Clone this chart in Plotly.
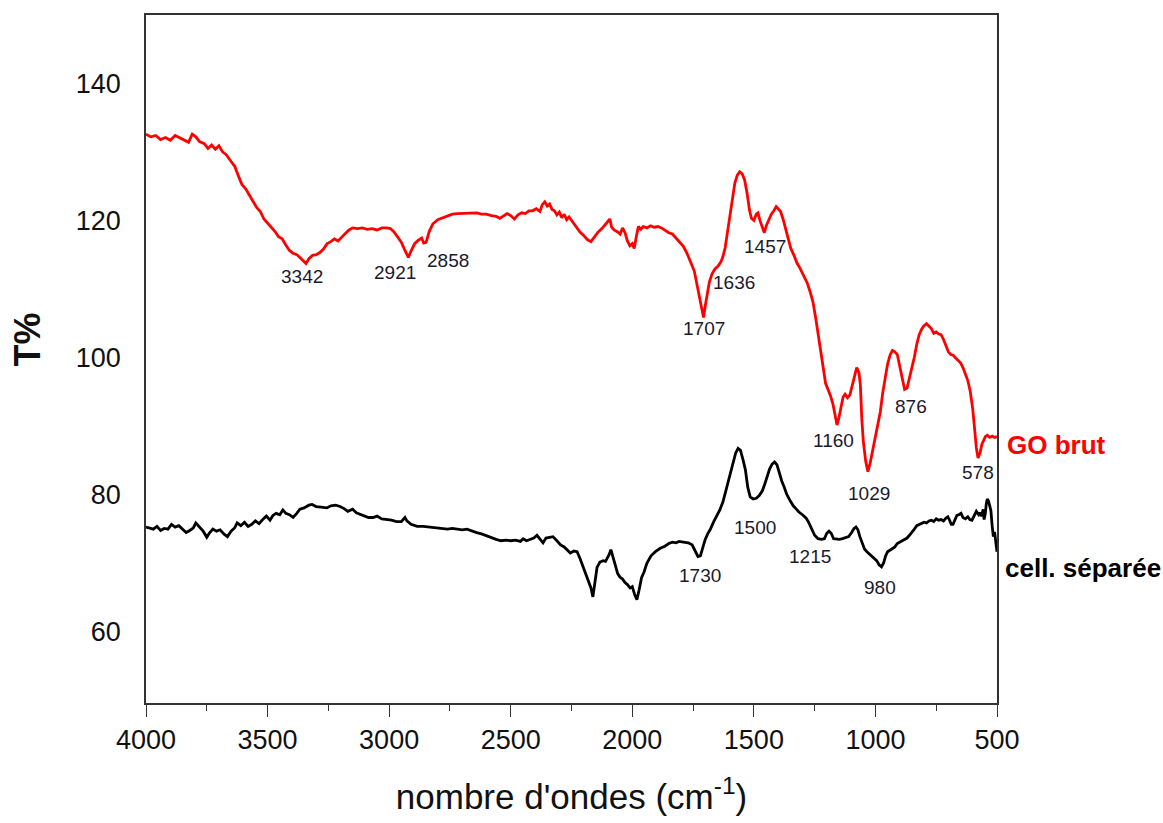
import numpy as np
import plotly.graph_objects as go

# FTIR spectra: wavenumber (cm-1) and transmittance (T%)
go_wn = [4000, 3980, 3960, 3940, 3920, 3900, 3880, 3860, 3840, 3825, 3810, 3795, 3780, 3760, 3745,
         3730, 3715, 3700, 3685, 3670, 3650, 3635, 3620, 3605, 3590, 3575, 3560, 3545, 3530, 3515,
         3500, 3485, 3470, 3455, 3440, 3425, 3410, 3395, 3380, 3365, 3350, 3342, 3330, 3315, 3300,
         3285, 3270, 3255, 3240, 3225, 3210, 3195, 3180, 3165, 3150, 3130, 3110, 3090, 3070, 3050,
         3030, 3010, 2995, 2980, 2965, 2950, 2935, 2921, 2910, 2895, 2880, 2866, 2858, 2848, 2835,
         2820, 2800, 2780, 2760, 2740, 2720, 2700, 2680, 2660, 2640, 2620, 2600, 2580, 2560, 2545,
         2530, 2515, 2500, 2485, 2470, 2455, 2440, 2425, 2410, 2395, 2380, 2370, 2360, 2350, 2340,
         2330, 2320, 2310, 2300, 2290, 2280, 2270, 2260, 2250, 2240, 2230, 2215, 2200, 2185, 2170,
         2155, 2140, 2125, 2110, 2100, 2092, 2085, 2075, 2060, 2050, 2040, 2030, 2020, 2010, 2000,
         1992, 1985, 1975, 1965, 1955, 1940, 1925, 1910, 1895, 1880, 1865, 1850, 1835, 1820, 1805,
         1790, 1775, 1760, 1745, 1735, 1725, 1715, 1707, 1700, 1692, 1683, 1672, 1660, 1648, 1636,
         1628, 1618, 1608, 1598, 1588, 1578, 1568, 1558, 1548, 1538, 1528, 1518, 1510, 1500, 1490,
         1483, 1475, 1465, 1457, 1448, 1438, 1428, 1418, 1408, 1400, 1390, 1380, 1370, 1360, 1348,
         1335, 1323, 1310, 1295, 1281, 1268, 1257, 1245, 1235, 1225, 1215, 1205, 1195, 1185, 1175,
         1165, 1158, 1150, 1140, 1133, 1125, 1115, 1105, 1095, 1085, 1077, 1068, 1062, 1056, 1050,
         1040, 1031, 1022, 1012, 1000, 990, 980, 970, 960, 950, 940, 930, 920, 910, 900,
         890, 880, 870, 860, 850, 840, 830, 820, 810, 800, 790, 780, 770, 760, 750,
         740, 730, 720, 710, 700, 690, 680, 670, 660, 650, 640, 630, 620, 610, 600,
         592, 585, 578, 570, 562, 555, 548, 540, 530, 520, 510, 500]
go_t = [132.6, 132.2, 132.4, 131.8, 132.1, 131.7, 132.4, 132.0, 131.6, 131.4, 132.6, 132.2, 131.5, 131.2, 130.5,
        131.0, 130.4, 130.9, 130.0, 129.6, 128.6, 127.9, 126.5, 125.2, 124.6, 123.6, 122.8, 121.9, 121.3, 120.2,
        119.6, 118.9, 118.4, 117.6, 117.3, 116.4, 115.6, 115.2, 115.0, 114.5, 114.0, 113.7, 114.4, 114.9, 115.0,
        115.3, 115.8, 116.6, 116.9, 117.3, 117.0, 117.6, 118.1, 118.6, 118.9, 118.8, 118.9, 118.7, 118.8, 118.6,
        118.9, 118.9, 118.8, 118.3, 117.6, 116.8, 115.6, 114.6, 115.5, 116.6, 117.1, 117.4, 116.7, 116.8, 118.4,
        119.5, 120.1, 120.4, 120.6, 120.9, 121.0, 121.0, 121.1, 121.0, 121.1, 120.9, 120.9, 120.7, 120.6, 120.3,
        120.7, 121.0, 120.7, 120.2, 120.8, 121.1, 121.0, 121.4, 121.4, 121.7, 121.3, 122.3, 122.7, 122.1, 122.4,
        121.6, 121.4, 120.8, 121.2, 120.4, 120.9, 120.1, 120.5, 120.0, 119.5, 118.9, 118.3, 117.8, 117.2, 116.9,
        117.6, 118.3, 118.8, 119.4, 119.8, 120.2, 119.0, 118.6, 118.3, 118.0, 118.9, 118.2, 117.0, 116.3, 116.6,
        115.9, 117.3, 119.1, 118.7, 119.1, 118.9, 119.2, 119.0, 119.1, 118.9, 118.5, 118.2, 118.0, 117.4, 116.8,
        116.2, 115.2, 114.0, 112.6, 110.8, 108.9, 107.0, 105.8, 107.5, 109.1, 111.0, 112.2, 112.9, 113.3, 113.9,
        114.6, 116.0, 118.4, 121.0, 123.5, 125.5, 126.6, 127.1, 126.8, 125.9, 124.0, 121.5, 120.3, 120.0, 120.9,
        121.1, 120.0, 119.0, 118.2, 119.3, 120.2, 120.9, 121.4, 122.0, 121.7, 121.3, 120.2, 118.8, 117.2, 115.9,
        114.9, 113.8, 113.0, 112.0, 110.9, 109.5, 108.1, 105.6, 103.2, 100.8, 98.2, 96.2, 95.3, 94.4, 93.2,
        91.5, 90.1, 91.2, 93.0, 94.2, 94.6, 94.1, 94.5, 95.8, 97.4, 98.5, 97.8, 96.0, 91.0, 87.8,
        84.8, 83.3, 84.5, 86.4, 88.6, 90.6, 92.0, 94.8, 97.0, 99.0, 100.3, 101.0, 100.8, 100.4, 98.7,
        96.8, 95.3, 95.5, 96.9, 98.2, 100.0, 101.9, 103.3, 104.1, 104.6, 104.9, 104.6, 104.2, 103.5, 103.7,
        103.4, 103.3, 102.6, 101.6, 100.8, 100.4, 100.3, 99.9, 99.6, 99.2, 98.5, 97.6, 96.6, 95.0, 92.5,
        89.5, 86.8, 85.3, 86.0, 87.3, 88.0, 88.4, 88.6, 88.3, 88.5, 88.3, 88.4]

cell_wn = [4000, 3985, 3970, 3955, 3940, 3925, 3910, 3895, 3880, 3865, 3850, 3835, 3820, 3805, 3795,
           3780, 3765, 3750, 3740, 3725, 3710, 3695, 3680, 3665, 3650, 3635, 3625, 3610, 3595, 3580,
           3565, 3550, 3535, 3520, 3505, 3490, 3478, 3465, 3450, 3437, 3425, 3410, 3395, 3380, 3367,
           3350, 3330, 3317, 3300, 3280, 3256, 3240, 3220, 3202, 3185, 3170, 3161, 3150, 3135, 3120,
           3100, 3085, 3066, 3050, 3030, 3009, 2990, 2970, 2950, 2935, 2927, 2910, 2885, 2860, 2830,
           2800, 2780, 2760, 2740, 2720, 2700, 2680, 2660, 2640, 2620, 2598, 2580, 2560, 2540, 2520,
           2500, 2480, 2460, 2449, 2435, 2420, 2405, 2392, 2380, 2367, 2355, 2340, 2326, 2310, 2295,
           2280, 2268, 2255, 2240, 2227, 2215, 2203, 2190, 2180, 2170, 2162, 2155, 2145, 2133, 2120,
           2110, 2104, 2095, 2088, 2080, 2070, 2060, 2051, 2040, 2030, 2020, 2009, 2000, 1990, 1981,
           1972, 1962, 1952, 1940, 1923, 1905, 1885, 1866, 1850, 1835, 1820, 1808, 1790, 1770, 1754,
           1740, 1730, 1720, 1710, 1700, 1690, 1680, 1665, 1650, 1640, 1627, 1615, 1605, 1595, 1585,
           1575, 1565, 1555, 1545, 1535, 1525, 1515, 1503, 1490, 1478, 1465, 1455, 1445, 1435, 1425,
           1415, 1405, 1395, 1385, 1375, 1365, 1350, 1338, 1327, 1315, 1300, 1285, 1275, 1262, 1250,
           1236, 1222, 1210, 1200, 1191, 1182, 1172, 1160, 1148, 1135, 1122, 1110, 1098, 1088, 1080,
           1072, 1064, 1055, 1045, 1035, 1025, 1015, 1005, 995, 985, 975, 966, 958, 950, 940,
           930, 920, 910, 900, 890, 880, 870, 860, 850, 840, 830, 820, 810, 800, 790,
           780, 770, 760, 750, 740, 730, 720, 710, 702, 695, 688, 681, 673, 665, 657,
           648, 640, 630, 620, 612, 603, 595, 585, 575, 570, 563, 557, 553, 548, 544,
           540, 535, 530, 525, 520, 515, 510, 505, 500]
cell_t = [75.2, 75.0, 74.9, 75.3, 74.7, 75.0, 74.9, 75.6, 75.2, 75.4, 74.9, 74.4, 74.7, 75.1, 75.8,
          75.2, 74.6, 73.7, 74.3, 74.9, 74.6, 74.8, 74.2, 73.8, 74.6, 75.1, 75.8, 75.4, 75.9, 75.3,
          75.6, 76.1, 75.7, 76.3, 76.8, 76.2, 76.9, 77.2, 77.0, 77.7, 77.2, 77.0, 76.6, 77.2, 77.8,
          78.0, 78.4, 78.5, 78.2, 78.1, 78.0, 78.3, 78.4, 78.2, 77.9, 77.5, 77.6, 77.8, 77.3, 77.1,
          76.9, 76.6, 76.6, 76.8, 76.4, 76.3, 76.2, 76.0, 76.0, 76.6, 76.1, 75.6, 75.3, 75.3, 75.2,
          75.0, 75.0, 74.9, 75.0, 74.9, 74.8, 74.9, 74.6, 74.4, 74.2, 73.9, 73.6, 73.4, 73.2, 73.3,
          73.2, 73.3, 73.1, 73.5, 73.2, 73.4, 73.6, 74.0, 73.4, 72.9, 73.6, 73.7, 73.8, 73.2, 72.6,
          72.3, 71.9, 71.4, 71.7, 71.6, 70.6, 69.4, 68.2, 67.0, 66.3, 65.0, 66.8, 69.3, 70.1, 70.3,
          70.2, 70.6, 71.2, 71.9, 70.9, 69.3, 68.4, 67.9, 67.6, 67.1, 66.8, 66.3, 66.5, 65.3, 64.6,
          66.0, 67.8, 68.6, 69.9, 71.0, 71.6, 72.1, 72.4, 72.8, 73.0, 72.9, 73.1, 73.0, 72.9, 72.6,
          71.6, 70.9, 71.0, 72.4, 73.4, 74.2, 74.8, 76.0, 77.0, 77.7, 78.9, 80.5, 81.9, 83.5, 84.9,
          86.0, 86.7, 86.4, 85.1, 83.6, 81.0, 79.6, 79.3, 79.4, 79.8, 80.5, 81.5, 82.6, 83.7, 84.4,
          84.7, 84.3, 83.0, 81.9, 81.0, 80.0, 79.0, 78.3, 77.9, 77.4, 77.0, 76.5, 75.9, 74.9, 74.0,
          73.5, 73.4, 73.5, 74.3, 74.6, 74.3, 73.5, 73.4, 73.4, 73.5, 73.7, 73.8, 74.4, 75.0, 75.2,
          74.8, 73.8, 73.0, 72.0, 71.6, 71.3, 70.9, 70.7, 70.3, 69.7, 69.4, 70.0, 71.0, 71.6, 71.8,
          72.0, 72.3, 72.8, 73.0, 73.2, 73.3, 73.6, 74.0, 74.4, 74.9, 75.4, 75.6, 75.8, 75.9, 75.8,
          76.1, 76.2, 76.0, 76.4, 76.2, 76.3, 76.1, 76.5, 76.7, 76.2, 75.6, 75.6, 76.4, 76.9, 77.0,
          77.2, 76.6, 76.4, 76.7, 76.3, 76.2, 76.8, 77.5, 77.0, 77.3, 76.8, 77.8, 76.3, 77.2, 78.6,
          79.3, 79.0, 78.2, 77.6, 75.4, 73.8, 74.5, 72.8, 71.6]

# band positions labelled on each spectrum (cm-1)
go_bands = [3342, 2921, 2858, 1707, 1636, 1457, 1160, 1029, 876, 578]
cell_bands = [1730, 1500, 1215, 980]

x_ticks = [4000, 3500, 3000, 2500, 2000, 1500, 1000, 500]
y_ticks = [60, 80, 100, 120, 140]

series_names = ["GO brut", "cell. séparée"]

FONT = "Arial, 'Liberation Sans', sans-serif"

fig = go.Figure()
fig.add_trace(go.Scatter(x=go_wn, y=go_t, mode="lines", name=series_names[0],
                         line=dict(color="#ff0000", width=2.8), showlegend=False))
fig.add_trace(go.Scatter(x=cell_wn, y=cell_t, mode="lines", name=series_names[1],
                         line=dict(color="#000000", width=2.8), showlegend=False))

# label pixel offsets from the band minimum on the curve
go_offsets = [(-4, -13), (-13, -15), (24, -18), (0, -11), (13, -20), (1, -14),
              (-3, -18), (1, -24), (5, -18), (0, -15)]
cell_offsets = [(2, -19), (1, -29), (-13, -18), (0, -22)]

go_x_sorted = np.array(go_wn[::-1], dtype=float)
go_y_sorted = np.array(go_t[::-1], dtype=float)
cell_x_sorted = np.array(cell_wn[::-1], dtype=float)
cell_y_sorted = np.array(cell_t[::-1], dtype=float)

LABEL_FONT = dict(family=FONT, size=19, color="#1a1a2e")
for band, (dx, dy) in zip(go_bands, go_offsets):
    yv = float(np.interp(band, go_x_sorted, go_y_sorted))
    fig.add_annotation(x=band, y=yv, xref="x", yref="y", text=str(band), showarrow=False,
                       xshift=dx, yshift=dy, font=LABEL_FONT)
for band, (dx, dy) in zip(cell_bands, cell_offsets):
    yv = float(np.interp(band, cell_x_sorted, cell_y_sorted))
    fig.add_annotation(x=band, y=yv, xref="x", yref="y", text=str(band), showarrow=False,
                       xshift=dx, yshift=dy, font=LABEL_FONT)

# series names at the right-hand end of each spectrum
fig.add_annotation(x=1.009, y=go_t[-1], xref="paper", yref="y", text="<b>%s</b>" % series_names[0],
                   showarrow=False, xanchor="left", yshift=-8,
                   font=dict(family=FONT, size=26, color="#ff0000"))
fig.add_annotation(x=1.007, y=cell_t[-1], xref="paper", yref="y", text="<b>%s</b>" % series_names[1],
                   showarrow=False, xanchor="left", yshift=-16,
                   font=dict(family=FONT, size=26, color="#000000"))

# vertical axis title
fig.add_annotation(x=-0.139, y=0.528, xref="paper", yref="paper", text="<b>T%</b>", textangle=-90,
                   showarrow=False, xanchor="center", yanchor="middle",
                   font=dict(family=FONT, size=36, color="#111111"))

fig.update_xaxes(
    range=[4000, 500], tickvals=x_ticks, ticktext=[str(v) for v in x_ticks],
    showgrid=False, zeroline=False, showline=True, mirror=True,
    linecolor="#333333", linewidth=1.5,
    ticks="outside", ticklen=12, tickwidth=1.4, tickcolor="#333333",
    minor=dict(dtick=250, tick0=500, ticks="outside", ticklen=6, tickwidth=1.2, tickcolor="#333333"),
    tickfont=dict(family=FONT, size=27, color="#111111"),
    title=dict(text="nombre d'ondes (cm<sup>-1</sup>)", standoff=30,
               font=dict(family=FONT, size=35, color="#111111")),
)
fig.update_yaxes(
    range=[49.5, 150], tickvals=y_ticks, ticktext=[str(v) for v in y_ticks],
    showgrid=False, zeroline=False, showline=True, mirror=True,
    linecolor="#333333", linewidth=1.5, ticks="",
    ticklabelstandoff=18,
    tickfont=dict(family=FONT, size=27, color="#111111"),
)

fig.update_layout(
    width=1163, height=823,
    margin=dict(l=146, r=166, t=15, b=120),
    plot_bgcolor="white", paper_bgcolor="white",
    font=dict(family=FONT),
)

fig.write_html("out.html")
